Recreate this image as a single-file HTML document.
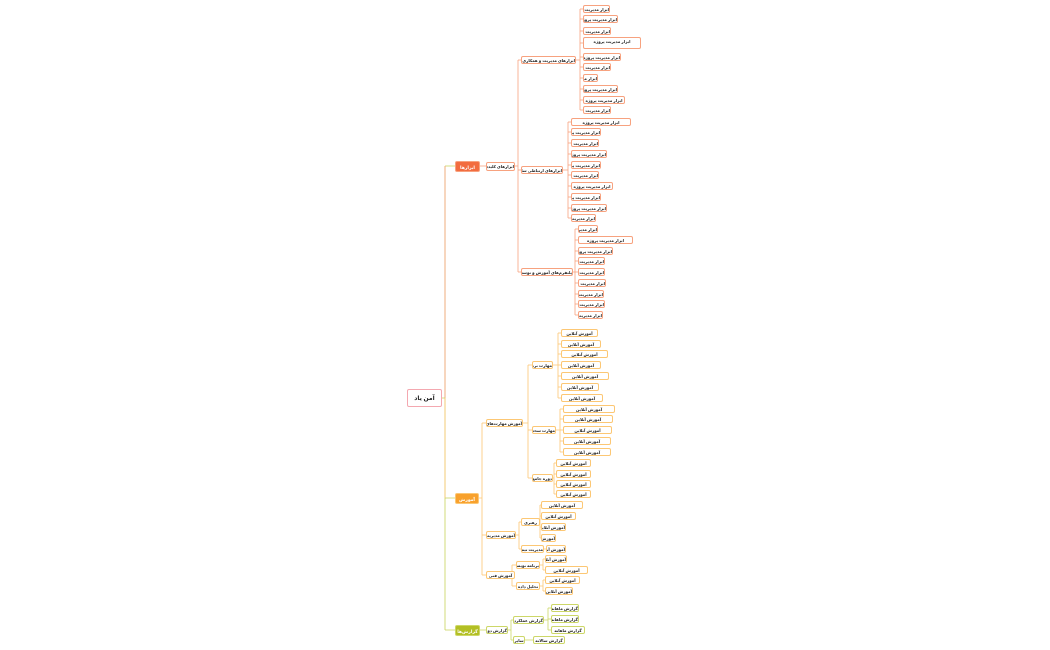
<!DOCTYPE html>
<html><head><meta charset="utf-8"><style>
html,body{margin:0;padding:0;background:#fff;width:1050px;height:650px;overflow:hidden;position:relative;font-family:"Liberation Sans","DejaVu Sans",sans-serif}
.n{position:absolute;box-sizing:border-box;background:#fff;border:1px solid;border-radius:2px;font-size:4px;font-weight:bold;line-height:7px;text-align:center;white-space:nowrap;overflow:hidden;direction:rtl;color:#222}
svg{position:absolute;left:0;top:0}
</style></head><body>
<svg id="s" width="1050" height="650"></svg>
<div id="c"></div>
<script>
var C={r:['#f26c3f','#f7a27f'],o:['#f8a12c','#fcc774'],g:['#b3bf24','#cdd768']};
var svg=document.getElementById('s'),cont=document.getElementById('c');
function node(x,y,w,h,t,col,fill,fs){var d=document.createElement('div');d.className='n';d.style.left=x+'px';d.style.top=(y-h/2)+'px';d.style.width=w+'px';d.style.height=h+'px';d.style.borderColor=col;if(fill){d.style.background=fill;d.style.color='#fff';}if(fs){d.style.fontSize=fs+'px';d.style.lineHeight=h+'px';}d.textContent=t;cont.appendChild(d);return {r:x+w,y:y};}
function line(p,col){var e=document.createElementNS('http://www.w3.org/2000/svg','path');e.setAttribute('d',p);e.setAttribute('stroke',col);e.setAttribute('fill','none');e.setAttribute('stroke-width','0.8');svg.appendChild(e);}
function conn(px,py,vx,kids,col){var ys=kids.map(k=>k[1]);var mn=Math.min.apply(0,ys.concat([py])),mx=Math.max.apply(0,ys.concat([py]));line('M'+px+' '+py+'H'+vx+'M'+vx+' '+mn+'V'+mx,col);kids.forEach(k=>line('M'+vx+' '+k[1]+'H'+k[0],col));}
function leaves(px,py,vx,x,items,col,t){conn(px,py,vx,items.map(i=>[x,i[0]]),col);items.forEach(i=>node(x,i[0],i[1],i[2]||8,t,col));}
var T='ابزار مدیریت پروژه',L='آموزش آنلاین';
node(407,398,35,18,'آمن یاد','#f4a8b0',null,6);
line('M442 398H445M445 166V630M445 166H455M445 498H455M445 630H455','#c8d35a');
line('M445 166V398','#f7a27f');
line('M445 398V498','#fcc774');
node(455,166,25,11,'ابزارها',C.r[1],C.r[0],4.5);
node(486,166,29,9,'ابزارهای کلیدی',C.r[1]);
line('M480 166H486',C.r[1]);
conn(515,166,518,[[521,60],[521,170],[521,272]],C.r[1]);
node(521,60,55,8,'ابزارهای مدیریت و همکاری تیمی',C.r[1]);
node(521,170,42,8,'ابزارهای ارتباطی سازمانی',C.r[1]);
node(521,272,52,8,'پلتفرم‌های آموزش و توسعه',C.r[1]);
leaves(576,60,580,583,[[9,27],[19,35],[31,28],[43,58,12],[57,38],[67,28],[78,15],[89,35],[100,42],[110,28]],C.r[1],T);
leaves(563,170,568,571,[[122,60],[132,30],[143,28],[154,36],[165,30],[175,28],[186,42],[197,30],[208,36],[218,25]],C.r[1],T);
leaves(573,272,575,578,[[229,20],[240,55],[251,35],[261,27],[272,27],[283,28],[294,26],[304,27],[315,25]],C.r[1],T);
node(455,498,24,11,'آموزش',C.o[1],C.o[0],4.5);
conn(479,498,482,[[486,423],[486,535],[486,575]],C.o[1]);
node(486,423,37,8,'آموزش مهارت‌های کلیدی',C.o[1]);
node(486,535,30,8,'آموزش مدیریت',C.o[1]);
node(486,575,29,8,'آموزش فنی',C.o[1]);
conn(523,423,528,[[532,365],[532,430],[532,478]],C.o[1]);
node(532,365,21,8,'مهارت نرم',C.o[1]);
node(532,430,24,8,'مهارت سخت',C.o[1]);
node(532,478,21,8,'دوره جامع',C.o[1]);
leaves(553,365,558,561,[[333,37],[344,40],[354,47],[365,40],[376,48],[387,38],[398,42]],C.o[1],L);
leaves(556,430,560,563,[[409,52],[419,50],[430,49],[441,48],[452,48]],C.o[1],L);
leaves(553,478,554,556,[[463,35],[474,35],[484,35],[494,35]],C.o[1],L);
conn(516,535,519,[[521,522],[521,549]],C.o[1]);
node(521,522,19,8,'رهبری',C.o[1]);node(521,549,23,8,'مدیریت تیم',C.o[1]);
leaves(540,522,540,541,[[505,42],[516,35],[527,25],[538,15]],C.o[1],L);
leaves(544,549,545,546,[[549,20]],C.o[1],L);
conn(515,575,512,[[516,565],[516,586]],C.o[1]);
node(516,565,24,8,'برنامه نویسی',C.o[1]);node(516,586,24,8,'تحلیل داده',C.o[1]);
leaves(540,565,543,545,[[559,22],[570,43]],C.o[1],L);
leaves(540,586,543,545,[[580,35],[591,28]],C.o[1],L);
node(455,630,25,11,'گزارش‌ها',C.g[1],C.g[0],4.5);
node(486,630,22,8,'گزارش دوره',C.g[1]);line('M480 630H486',C.g[1]);
conn(508,630,511,[[513,620],[513,640]],C.g[1]);
node(513,620,31,8,'گزارش عملکرد',C.g[1]);node(513,640,12,8,'سایر',C.g[1]);
leaves(544,620,548,551,[[608,28],[619,28],[630,34]],C.g[1],'گزارش ماهانه');
leaves(525,640,529,533,[[640,32]],C.g[1],'گزارش سالانه');
</script>
</body></html>
